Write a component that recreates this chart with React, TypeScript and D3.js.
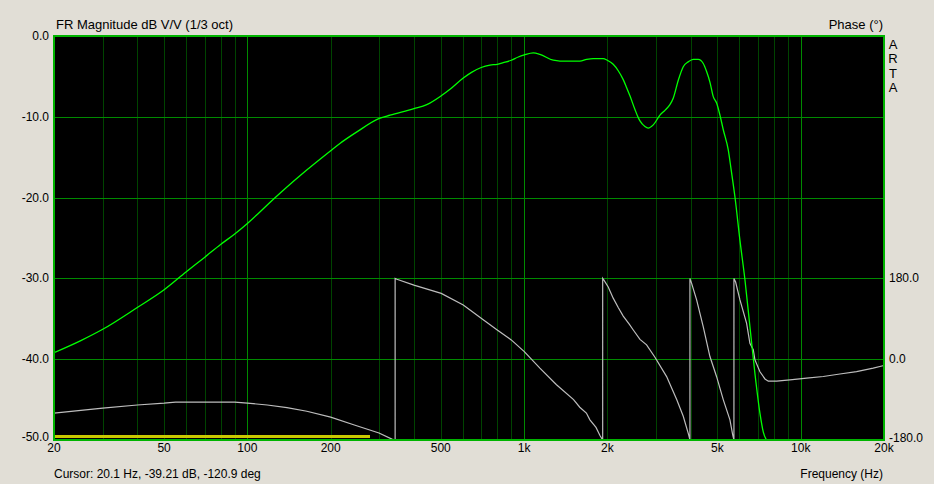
import React from "react";
import * as d3 from "d3";

// ---- data ----
const magFreq = [20, 25, 30, 40, 50, 60, 70, 80, 90, 100, 125, 156, 200, 216, 248, 300, 328, 400, 445, 502, 540, 603, 646, 700, 753, 800, 841, 899, 953, 1002, 1080, 1141, 1275, 1348, 1592, 1683, 1779, 1933, 1998, 2100, 2190, 2283, 2349, 2414, 2517, 2587, 2624, 2735, 2810, 2931, 3099, 3230, 3367, 3461, 3608, 3762, 3922, 4088, 4262, 4444, 4569, 4697, 4829, 4966, 5106, 5249, 5472, 5608, 5784, 6031, 6288, 6554, 6833, 7124, 7322, 7600, 7900];
const magDb = [-39.2, -37.7, -36.3, -33.6, -31.4, -29.2, -27.4, -25.8, -24.5, -23.2, -20.1, -17.2, -14.2, -13.3, -11.9, -10.2, -9.8, -9.0, -8.5, -7.4, -6.6, -5.2, -4.5, -3.9, -3.6, -3.5, -3.3, -3.0, -2.6, -2.35, -2.1, -2.27, -3.0, -3.1, -3.1, -2.9, -2.8, -2.8, -3.0, -3.5, -4.3, -5.4, -6.4, -7.4, -9.1, -10.1, -10.5, -11.2, -11.4, -11.0, -9.8, -9.2, -8.5, -7.7, -5.5, -3.8, -3.2, -2.9, -2.9, -3.4, -4.4, -5.7, -7.5, -8.3, -9.8, -11.6, -14.1, -16.6, -19.9, -25.3, -30.2, -36.0, -41.8, -46.7, -49.0, -50.3, -51.5];

const phaseFreq = [20, 30, 40, 50, 55, 70, 90, 100, 118, 139, 164, 200, 242, 299, 333, 342, 342, 347, 400, 502, 603, 700, 800, 899, 1002, 1141, 1310, 1510, 1590, 1680, 1730, 1820, 1881, 1924, 1924, 1944, 2015, 2100, 2190, 2283, 2400, 2482, 2624, 2773, 2972, 3276, 3562, 3762, 3934, 3977, 3977, 4034, 4205, 4444, 4697, 4966, 5248, 5549, 5675, 5736, 5736, 5817, 6031, 6375, 6552, 6737, 6832, 7124, 7427, 7635, 8184, 9141, 10505, 12063, 13854, 15916, 18281, 20000];
const phaseDeg = [-120, -109, -102, -98, -95.6, -95.6, -95.6, -97.8, -102, -108, -116, -129, -146, -164.5, -178, -180, 180, 178, 165, 146.7, 120.7, 91, 65, 43, 17, -20, -57, -90, -107, -120, -135, -152, -170, -180, 180, 176, 161, 136, 115, 96, 78, 65, 44, 32, 4.4, -38.7, -90, -127, -168, -180, 180, 169, 132, 72, 6, -39, -90, -135, -168, -180, 180, 172, 132, 80, 35.5, 21, -1.5, -28, -44, -49, -49, -46, -42, -38.5, -33, -27.5, -20, -14];

const gateFreq = [20, 277];
const gateDb = [-49.6, -49.6];

const dbTicks = [0, -10, -20, -30, -40, -50];
const dbTickLabels = ["0.0", "-10.0", "-20.0", "-30.0", "-40.0", "-50.0"];
const phaseTicks = [180, 0, -180];
const phaseTickLabels = ["180.0", "0.0", "-180.0"];
const freqTicks = [20, 50, 100, 200, 500, 1000, 2000, 5000, 10000, 20000];
const freqTickLabels = ["20", "50", "100", "200", "500", "1k", "2k", "5k", "10k", "20k"];
const majorFreqs = [100, 1000, 10000];

const titleText = "FR Magnitude dB V/V (1/3 oct)";
const phaseTitle = "Phase (°)";
const cursorText = "Cursor: 20.1 Hz, -39.21 dB, -120.9 deg";
const freqTitle = "Frequency (Hz)";
const brand = ["A", "R", "T", "A"];

// ---- layout ----
const W = 934;
const H = 484;
const L = 54;
const R = 884;
const T = 36;
const B = 440;

const FONT = "'Liberation Sans', Arial, sans-serif";

export default function App() {
  const x = d3.scaleLog().domain([20, 20000]).range([L, R]);
  const y = d3.scaleLinear().domain([-50, 0]).range([B, T]);
  const yp = d3.scaleLinear().domain([-180, 720]).range([B, T]);

  const minorFreqs = x.ticks().filter((f) => f > 20 && f < 20000 && !majorFreqs.includes(f));

  const magLine = d3
    .line<number>()
    .x((_, i) => x(magFreq[i]))
    .y((d) => y(d))
    .curve(d3.curveMonotoneX);
  const phaseLine = d3
    .line<number>()
    .x((_, i) => x(phaseFreq[i]))
    .y((d) => yp(d));
  const gateLine = d3
    .line<number>()
    .x((_, i) => x(gateFreq[i]))
    .y((d) => y(d));

  const px = (v: number) => Math.round(v) + 0.5;

  return (
    <svg
      width={W}
      height={H}
      style={{ position: "fixed", left: 0, top: 0, display: "block" }}
      fontFamily={FONT}
      fontSize={12}
    >
      <rect x={0} y={0} width={W} height={H} fill="#e1ded6" />
      <defs>
        <clipPath id="plot">
          <rect x={L} y={T} width={R - L} height={B - T} />
        </clipPath>
      </defs>
      <rect x={L} y={T} width={R - L} height={B - T} fill="#000" />
      <g shapeRendering="crispEdges">
        {minorFreqs.map((f) => (
          <line key={"mn" + f} x1={px(x(f))} x2={px(x(f))} y1={T} y2={B} stroke="#004400" strokeWidth={1} />
        ))}
        {majorFreqs.map((f) => (
          <line key={"mj" + f} x1={px(x(f))} x2={px(x(f))} y1={T} y2={B} stroke="#008a00" strokeWidth={1} />
        ))}
        {dbTicks.slice(1, -1).map((d) => (
          <line key={"h" + d} x1={L} x2={R} y1={px(y(d))} y2={px(y(d))} stroke="#008a00" strokeWidth={1} />
        ))}
      </g>
      <g clipPath="url(#plot)">
        <path d={gateLine(gateDb) || ""} stroke="#c8c800" strokeWidth={3} fill="none" shapeRendering="crispEdges" />
        <path d={phaseLine(phaseDeg) || ""} stroke="#bdbdbd" strokeWidth={1.2} fill="none" />
        <path d={magLine(magDb) || ""} stroke="#00ff00" strokeWidth={1.3} fill="none" />
      </g>
      <rect x={L} y={T} width={R - L} height={B - T} fill="none" stroke="#00b400" strokeWidth={2} />

      {dbTicks.map((d, i) => (
        <text key={"dl" + d} x={L - 5} y={Math.min(y(d), B - 3)} textAnchor="end" dominantBaseline="central" fill="#000">
          {dbTickLabels[i]}
        </text>
      ))}
      {phaseTicks.map((p, i) => (
        <text key={"pl" + p} x={R + 5} y={Math.min(yp(p), B - 2)} textAnchor="start" dominantBaseline="central" fill="#000">
          {phaseTickLabels[i]}
        </text>
      ))}
      {freqTicks.map((f, i) => (
        <text key={"fl" + f} x={x(f)} y={452} textAnchor="middle" fill="#000">
          {freqTickLabels[i]}
        </text>
      ))}
      <text x={L + 2} y={29} fill="#000" fontSize={13}>{titleText}</text>
      <text x={R - 1} y={29} textAnchor="end" fill="#000" fontSize={13}>{phaseTitle}</text>
      <text x={L} y={478} fill="#000">{cursorText}</text>
      <text x={R - 1} y={478} textAnchor="end" fill="#000">{freqTitle}</text>
      {brand.map((c, i) => (
        <text key={"b" + i} x={893} y={48.5 + i * 14.5} textAnchor="middle" fill="#000" fontSize={13}>
          {c}
        </text>
      ))}
    </svg>
  );
}
